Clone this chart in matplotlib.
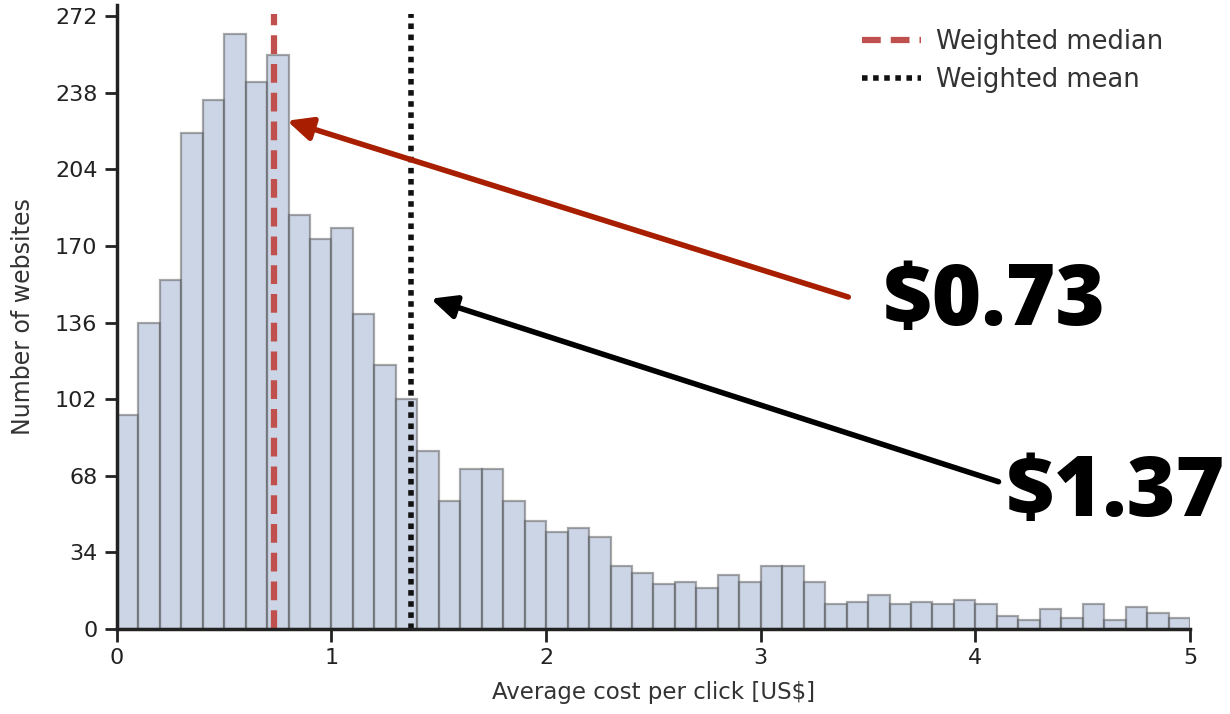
import numpy as np
import matplotlib
matplotlib.use("Agg")
from matplotlib import pyplot as plt

# histogram counts, bins of 0.1 from 0 to 5
bin_edges = np.round(np.arange(0, 5.01, 0.1), 2)
counts = [95, 136, 155, 220, 235, 264, 243, 255, 184, 173,
          178, 140, 117, 102, 79, 57, 71, 71, 57, 48,
          43, 45, 41, 28, 25, 20, 21, 18, 24, 21,
          28, 28, 21, 11, 12, 15, 11, 12, 11, 13,
          11, 6, 4, 9, 5, 11, 4, 10, 7, 5]
weighted_median = 0.73
weighted_mean = 1.37
yticks = [0, 34, 68, 102, 136, 170, 204, 238, 272]
xticks = [0, 1, 2, 3, 4, 5]

fig = plt.figure(figsize=(12.3, 7.14), dpi=100)
ax = fig.add_axes([0.095, 0.119, 0.8725, 0.874])

ax.bar(bin_edges[:-1], counts, width=0.1, align='edge',
       color='#9aaccc', alpha=0.5, edgecolor='#555555', linewidth=1.6)

ax.axvline(weighted_median, ymax=0.985, color='#c0504d', ls=(0, (3, 1.6)), lw=4.5,
           label='Weighted median')
ax.axvline(weighted_mean, ymax=0.985, color='#111111', ls=(0, (1, 1)), lw=4,
           label='Weighted mean')

ax.set_xlim(0, 5)
ax.set_ylim(0, 277)
ax.set_yticks(yticks)
ax.set_xticks(xticks)
ax.tick_params(labelsize=16, width=2, length=9, pad=5, color='#222222', labelcolor='#222222')
for s in ['top', 'right']:
    ax.spines[s].set_visible(False)
for s in ['left', 'bottom']:
    ax.spines[s].set_linewidth(2.5)
    ax.spines[s].set_color('#222222')

ax.set_xlabel('Average cost per click [US$]', fontsize=16.5, color='#333333', labelpad=9)
ax.set_ylabel('Number of websites', fontsize=17, color='#333333', labelpad=14)

ax.legend(loc='upper right', frameon=False, fontsize=18.5, handlelength=2.3,
          handletextpad=0.6, labelspacing=0.45, bbox_to_anchor=(0.997, 0.998),
          labelcolor='#333333')

ax.annotate('', xy=(0.78, 226), xytext=(3.42, 147),
            arrowprops=dict(arrowstyle='-|>,head_length=1.5,head_width=0.7',
                            color='#a81e00', lw=4))
ax.annotate('', xy=(1.45, 147), xytext=(4.12, 65),
            arrowprops=dict(arrowstyle='-|>,head_length=1.5,head_width=0.7',
                            color='black', lw=4))
fig.text(0.899, 0.576, '$0.73', fontsize=61, fontweight=800,
         family=['Open Sans', 'DejaVu Sans'], va='center', ha='right')
fig.text(0.996, 0.307, '$1.37', fontsize=60, fontweight=800,
         family=['Open Sans', 'DejaVu Sans'], va='center', ha='right')

fig.savefig('out.png', dpi=100)
